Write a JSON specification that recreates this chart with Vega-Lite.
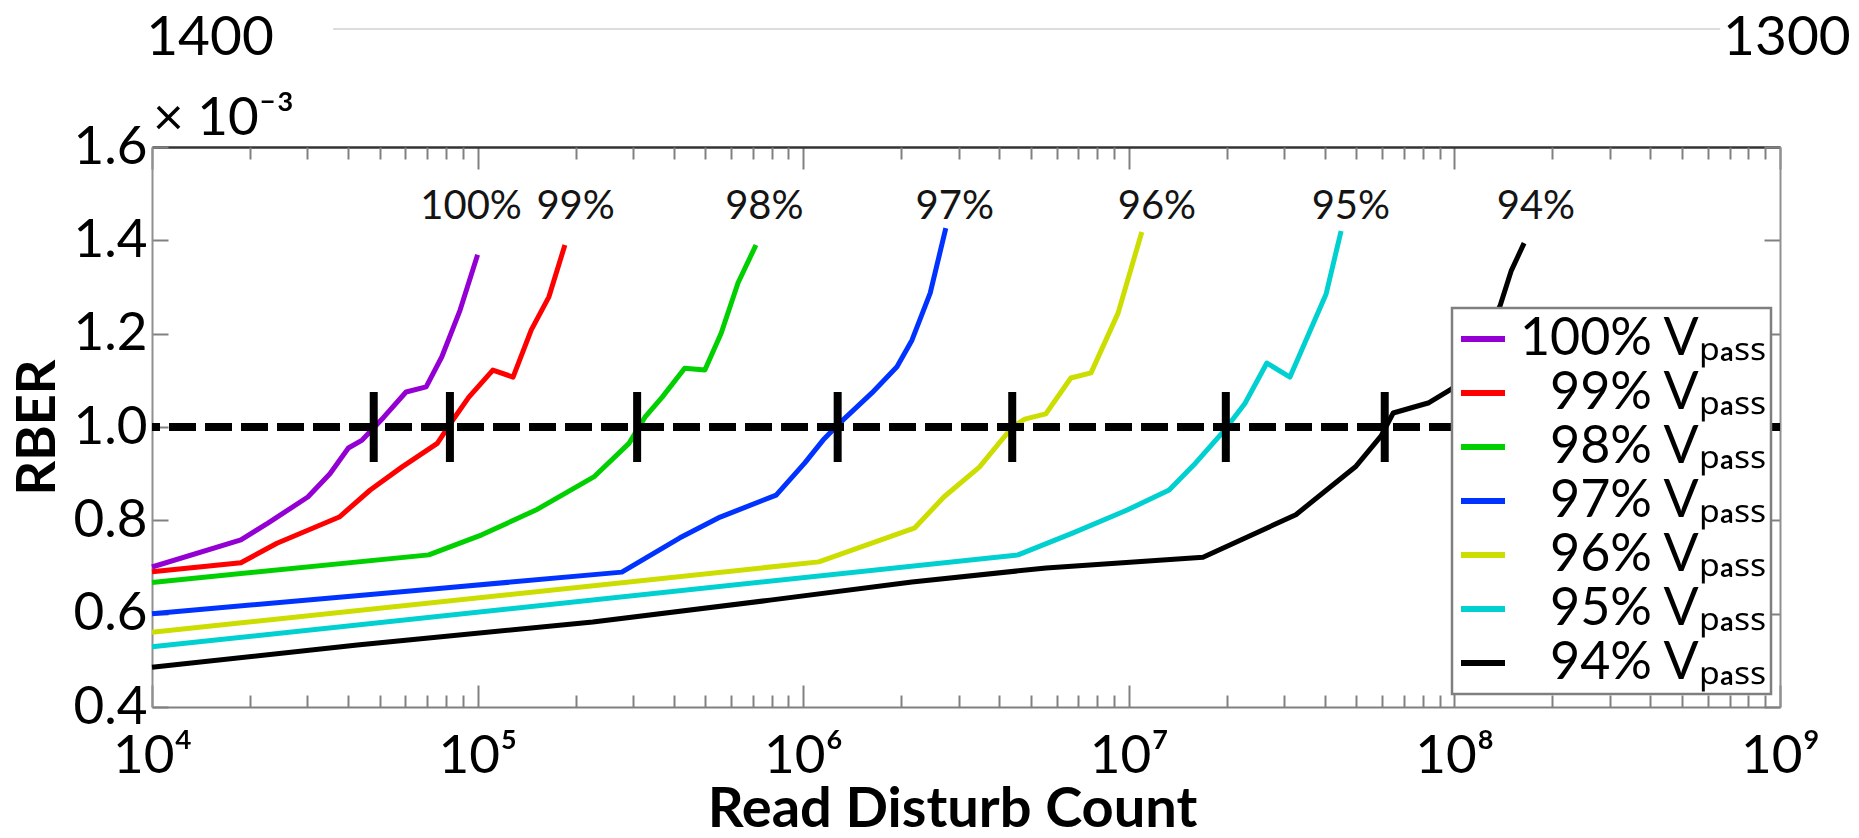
{
  "$schema": "https://vega.github.io/schema/vega-lite/v6.json",
  "width": 1628,
  "height": 560,
  "autosize": {"type": "none"},
  "padding": {"left": 152, "top": 147, "right": 79, "bottom": 131},
  "background": "white",
  "config": {
    "view": {"stroke": null},
    "font": "Lato",
    "axis": {"grid": false, "labelFont": "Lato", "titleFont": "Lato", "labelFlush": false, "labelOverlap": false},
    "legend": {"strokeWidth": 2.5}
  },
  "datasets": {
    "curves": [
      {"series": "100%", "count": 10000, "rber": 0.70},
      {"series": "100%", "count": 18750, "rber": 0.758},
      {"series": "100%", "count": 22700, "rber": 0.794},
      {"series": "100%", "count": 30100, "rber": 0.85},
      {"series": "100%", "count": 35200, "rber": 0.90},
      {"series": "100%", "count": 40100, "rber": 0.955},
      {"series": "100%", "count": 44200, "rber": 0.972},
      {"series": "100%", "count": 51500, "rber": 1.021},
      {"series": "100%", "count": 60300, "rber": 1.075},
      {"series": "100%", "count": 69500, "rber": 1.086},
      {"series": "100%", "count": 77600, "rber": 1.15},
      {"series": "100%", "count": 88300, "rber": 1.25},
      {"series": "100%", "count": 100000, "rber": 1.369},
      {"series": "99%", "count": 10000, "rber": 0.69},
      {"series": "99%", "count": 18750, "rber": 0.709},
      {"series": "99%", "count": 24200, "rber": 0.751},
      {"series": "99%", "count": 37600, "rber": 0.807},
      {"series": "99%", "count": 46800, "rber": 0.865},
      {"series": "99%", "count": 58500, "rber": 0.914},
      {"series": "99%", "count": 75200, "rber": 0.965},
      {"series": "99%", "count": 82800, "rber": 1.009},
      {"series": "99%", "count": 94000, "rber": 1.064},
      {"series": "99%", "count": 111400, "rber": 1.122},
      {"series": "99%", "count": 128500, "rber": 1.107},
      {"series": "99%", "count": 146200, "rber": 1.208},
      {"series": "99%", "count": 165600, "rber": 1.279},
      {"series": "99%", "count": 185400, "rber": 1.39},
      {"series": "98%", "count": 10000, "rber": 0.667},
      {"series": "98%", "count": 70800, "rber": 0.726},
      {"series": "98%", "count": 103000, "rber": 0.769},
      {"series": "98%", "count": 151000, "rber": 0.822},
      {"series": "98%", "count": 227500, "rber": 0.893},
      {"series": "98%", "count": 291700, "rber": 0.965},
      {"series": "98%", "count": 326600, "rber": 1.021},
      {"series": "98%", "count": 369000, "rber": 1.064},
      {"series": "98%", "count": 432500, "rber": 1.126},
      {"series": "98%", "count": 498900, "rber": 1.122},
      {"series": "98%", "count": 559800, "rber": 1.201},
      {"series": "98%", "count": 631000, "rber": 1.309},
      {"series": "98%", "count": 716100, "rber": 1.39},
      {"series": "97%", "count": 10000, "rber": 0.60},
      {"series": "97%", "count": 79000, "rber": 0.655},
      {"series": "97%", "count": 277300, "rber": 0.689},
      {"series": "97%", "count": 416900, "rber": 0.762},
      {"series": "97%", "count": 555900, "rber": 0.807},
      {"series": "97%", "count": 826000, "rber": 0.854},
      {"series": "97%", "count": 1011600, "rber": 0.923},
      {"series": "97%", "count": 1150800, "rber": 0.972},
      {"series": "97%", "count": 1306200, "rber": 1.011},
      {"series": "97%", "count": 1625600, "rber": 1.073},
      {"series": "97%", "count": 1940900, "rber": 1.129},
      {"series": "97%", "count": 2157700, "rber": 1.186},
      {"series": "97%", "count": 2454700, "rber": 1.287},
      {"series": "97%", "count": 2741600, "rber": 1.426},
      {"series": "96%", "count": 10000, "rber": 0.56},
      {"series": "96%", "count": 1116900, "rber": 0.711},
      {"series": "96%", "count": 2202800, "rber": 0.784},
      {"series": "96%", "count": 2703900, "rber": 0.85},
      {"series": "96%", "count": 3475500, "rber": 0.914},
      {"series": "96%", "count": 4390000, "rber": 1.0},
      {"series": "96%", "count": 4790000, "rber": 1.017},
      {"series": "96%", "count": 5560000, "rber": 1.028},
      {"series": "96%", "count": 6637300, "rber": 1.105},
      {"series": "96%", "count": 7656100, "rber": 1.116},
      {"series": "96%", "count": 9268400, "rber": 1.244},
      {"series": "96%", "count": 10964800, "rber": 1.418},
      {"series": "95%", "count": 10000, "rber": 0.529},
      {"series": "95%", "count": 4570900, "rber": 0.726},
      {"series": "95%", "count": 6745300, "rber": 0.773},
      {"series": "95%", "count": 9885500, "rber": 0.822},
      {"series": "95%", "count": 13304500, "rber": 0.865},
      {"series": "95%", "count": 15848900, "rber": 0.919},
      {"series": "95%", "count": 19724100, "rber": 0.994},
      {"series": "95%", "count": 22751300, "rber": 1.051},
      {"series": "95%", "count": 26546100, "rber": 1.137},
      {"series": "95%", "count": 31260800, "rber": 1.107},
      {"series": "95%", "count": 40364400, "rber": 1.285},
      {"series": "95%", "count": 44874600, "rber": 1.42},
      {"series": "94%", "count": 10000, "rber": 0.485},
      {"series": "94%", "count": 42700, "rber": 0.533},
      {"series": "94%", "count": 225900, "rber": 0.582},
      {"series": "94%", "count": 790700, "rber": 0.629},
      {"series": "94%", "count": 2157700, "rber": 0.668},
      {"series": "94%", "count": 5571900, "rber": 0.698},
      {"series": "94%", "count": 16904400, "rber": 0.721},
      {"series": "94%", "count": 32584000, "rber": 0.812},
      {"series": "94%", "count": 49888600, "rber": 0.916},
      {"series": "94%", "count": 59566200, "rber": 0.981},
      {"series": "94%", "count": 64863400, "rber": 1.03},
      {"series": "94%", "count": 83560000, "rber": 1.052},
      {"series": "94%", "count": 98400000, "rber": 1.082},
      {"series": "94%", "count": 117500000, "rber": 1.16},
      {"series": "94%", "count": 138000000, "rber": 1.259},
      {"series": "94%", "count": 149300000, "rber": 1.334},
      {"series": "94%", "count": 163700000, "rber": 1.394}
    ],
    "cross": [
      {"count": 47970},
      {"count": 82220},
      {"count": 309000},
      {"count": 1276000},
      {"count": 4385000},
      {"count": 19860000},
      {"count": 61100000}
    ],
    "ann": [
      {"label": "100%", "count": 95500, "rber": 1.471},
      {"label": "99%", "count": 200000, "rber": 1.471},
      {"label": "98%", "count": 760000, "rber": 1.471},
      {"label": "97%", "count": 2920000, "rber": 1.471},
      {"label": "96%", "count": 12200000, "rber": 1.471},
      {"label": "95%", "count": 48100000, "rber": 1.471},
      {"label": "94%", "count": 178000000, "rber": 1.471}
    ],
    "head": [
      {"label": "1400", "count": 15070, "rber": 1.797},
      {"label": "1300", "count": 1050000000, "rber": 1.797}
    ],
    "one": [{}]
  },
  "layer": [
    {
      "data": {"name": "curves"},
      "mark": {"type": "line", "strokeWidth": 5, "strokeJoin": "round"},
      "encoding": {
        "x": {
          "field": "count", "type": "quantitative",
          "scale": {"type": "log", "domain": [10000, 1000000000], "nice": false},
          "axis": {
            "orient": "bottom",
            "values": [10000, 100000, 1000000, 10000000, 100000000, 1000000000],
            "tickSize": -22, "tickColor": "#808080", "tickWidth": 2,
            "domainColor": "#808080", "domainWidth": 2,
            "labelExpr": "'10' + ['\u2070','\u00b9','\u00b2','\u00b3','\u2074','\u2075','\u2076','\u2077','\u2078','\u2079'][round(log(datum.value)/LN10)]",
            "labelFontSize": 53, "labelColor": "black", "labelPadding": 87, "labelBaseline": "alphabetic",
            "title": "Read Disturb Count", "titleFontSize": 56, "titleFontWeight": "bold", "titleColor": "black",
            "titleX": 800, "titleY": 119, "titleBaseline": "alphabetic", "titleAlign": "center"
          }
        },
        "y": {
          "field": "rber", "type": "quantitative",
          "scale": {"domain": [0.4, 1.6], "nice": false, "zero": false},
          "axis": {
            "orient": "left",
            "values": [0.4, 0.6, 0.8, 1.0, 1.2, 1.4, 1.6],
            "format": ".1f",
            "tickSize": -16, "tickColor": "#808080", "tickWidth": 2,
            "domainColor": "#909090", "domainWidth": 2,
            "labelFontSize": 53, "labelColor": "black", "labelPadding": 21,
            "title": "RBER", "titleFontSize": 54, "titleFontWeight": "bold", "titleColor": "black",
            "titleX": -114, "titleY": 280, "titleAngle": -90, "titleBaseline": "middle", "titleAlign": "center"
          }
        },
        "color": {
          "field": "series", "type": "nominal",
          "scale": {
            "domain": ["100%", "99%", "98%", "97%", "96%", "95%", "94%"],
            "range": ["#9400D3", "#FF0000", "#00D000", "#0033FF", "#CCDD00", "#00D0D0", "#000000"]
          },
          "legend": {
            "orient": "none", "legendX": 1300, "legendY": 161,
            "title": null,
            "symbolType": "stroke", "symbolStrokeWidth": 6, "symbolSize": 1936,
            "labelFont": "Lato", "labelFontSize": 52, "labelColor": "black", "labelLimit": 500,
            "labelAlign": "right", "labelOffset": 257, "rowPadding": 2, "padding": 5,
            "fillColor": "white", "strokeColor": "#7f7f7f",
            "labelExpr": "datum.label + ' V\u209a\u2090\u209b\u209b'"
          }
        }
      }
    },
    {
      "data": {"name": "one"},
      "mark": {"type": "rule", "color": "black", "strokeWidth": 8, "strokeDash": [27, 9]},
      "encoding": {
        "y": {"datum": 1.0, "type": "quantitative", "scale": {"domain": [0.4, 1.6], "nice": false, "zero": false}, "axis": null}
      }
    },
    {
      "data": {"name": "cross"},
      "mark": {"type": "rule", "color": "black", "strokeWidth": 8},
      "encoding": {
        "x": {
          "field": "count", "type": "quantitative",
          "scale": {"type": "log", "domain": [10000, 1000000000], "nice": false},
          "axis": {
            "orient": "bottom",
            "values": [20000, 30000, 40000, 50000, 60000, 70000, 80000, 90000, 200000, 300000, 400000, 500000, 600000, 700000, 800000, 900000, 2000000, 3000000, 4000000, 5000000, 6000000, 7000000, 8000000, 9000000, 20000000, 30000000, 40000000, 50000000, 60000000, 70000000, 80000000, 90000000, 200000000, 300000000, 400000000, 500000000, 600000000, 700000000, 800000000, 900000000],
            "tickSize": -12, "tickColor": "#808080", "tickWidth": 2,
            "labels": false, "domain": false, "title": null
          }
        },
        "y": {"datum": 0.925, "type": "quantitative", "scale": {"domain": [0.4, 1.6], "nice": false, "zero": false}, "axis": null},
        "y2": {"datum": 1.075}
      }
    },
    {
      "data": {"name": "ann"},
      "mark": {"type": "text", "font": "Lato", "fontSize": 40, "color": "#141414", "align": "center", "baseline": "middle"},
      "encoding": {
        "x": {
          "field": "count", "type": "quantitative",
          "scale": {"type": "log", "domain": [10000, 1000000000], "nice": false},
          "axis": {
            "orient": "top",
            "values": [10000, 100000, 1000000, 10000000, 100000000, 1000000000],
            "tickSize": -22, "tickColor": "#808080", "tickWidth": 2,
            "domainColor": "#333333", "domainWidth": 2.5,
            "labels": false, "title": null
          }
        },
        "y": {
          "field": "rber", "type": "quantitative",
          "scale": {"domain": [0.4, 1.6], "nice": false, "zero": false},
          "axis": {
            "orient": "right",
            "values": [0.4, 0.6, 0.8, 1.0, 1.2, 1.4, 1.6],
            "tickSize": -16, "tickColor": "#808080", "tickWidth": 2,
            "domainColor": "#909090", "domainWidth": 2,
            "labels": false, "title": null
          }
        },
        "text": {"field": "label"}
      }
    },
    {
      "data": {"name": "head"},
      "mark": {"type": "text", "font": "Lato", "fontSize": 55, "color": "black", "align": "center", "baseline": "alphabetic"},
      "encoding": {
        "x": {
          "field": "count", "type": "quantitative",
          "scale": {"type": "log", "domain": [10000, 1000000000], "nice": false},
          "axis": {
            "orient": "top",
            "values": [20000, 30000, 40000, 50000, 60000, 70000, 80000, 90000, 200000, 300000, 400000, 500000, 600000, 700000, 800000, 900000, 2000000, 3000000, 4000000, 5000000, 6000000, 7000000, 8000000, 9000000, 20000000, 30000000, 40000000, 50000000, 60000000, 70000000, 80000000, 90000000, 200000000, 300000000, 400000000, 500000000, 600000000, 700000000, 800000000, 900000000],
            "tickSize": -12, "tickColor": "#808080", "tickWidth": 2,
            "labels": false, "domain": false, "title": null
          }
        },
        "y": {"field": "rber", "type": "quantitative", "scale": {"domain": [0.4, 1.6], "nice": false, "zero": false}, "axis": null},
        "text": {"field": "label"}
      }
    },
    {
      "data": {"name": "one"},
      "mark": {"type": "rule", "color": "#dcdcdc", "strokeWidth": 2},
      "encoding": {
        "x": {"datum": 36000, "type": "quantitative", "scale": {"type": "log", "domain": [10000, 1000000000], "nice": false}, "axis": null},
        "x2": {"datum": 655000000},
        "y": {"datum": 1.853, "type": "quantitative", "scale": {"domain": [0.4, 1.6], "nice": false, "zero": false}, "axis": null}
      }
    },
    {
      "data": {"name": "one"},
      "mark": {"type": "text", "font": "Lato", "fontSize": 53, "color": "black", "align": "left", "baseline": "alphabetic", "text": "\u00d7 10\u207b\u00b3", "dx": 1},
      "encoding": {
        "x": {"datum": 10000, "type": "quantitative", "scale": {"type": "log", "domain": [10000, 1000000000], "nice": false}, "axis": null},
        "y": {"datum": 1.626, "type": "quantitative", "scale": {"domain": [0.4, 1.6], "nice": false, "zero": false}, "axis": null}
      }
    }
  ],
  "resolve": {"axis": {"x": "independent", "y": "independent"}}
}
